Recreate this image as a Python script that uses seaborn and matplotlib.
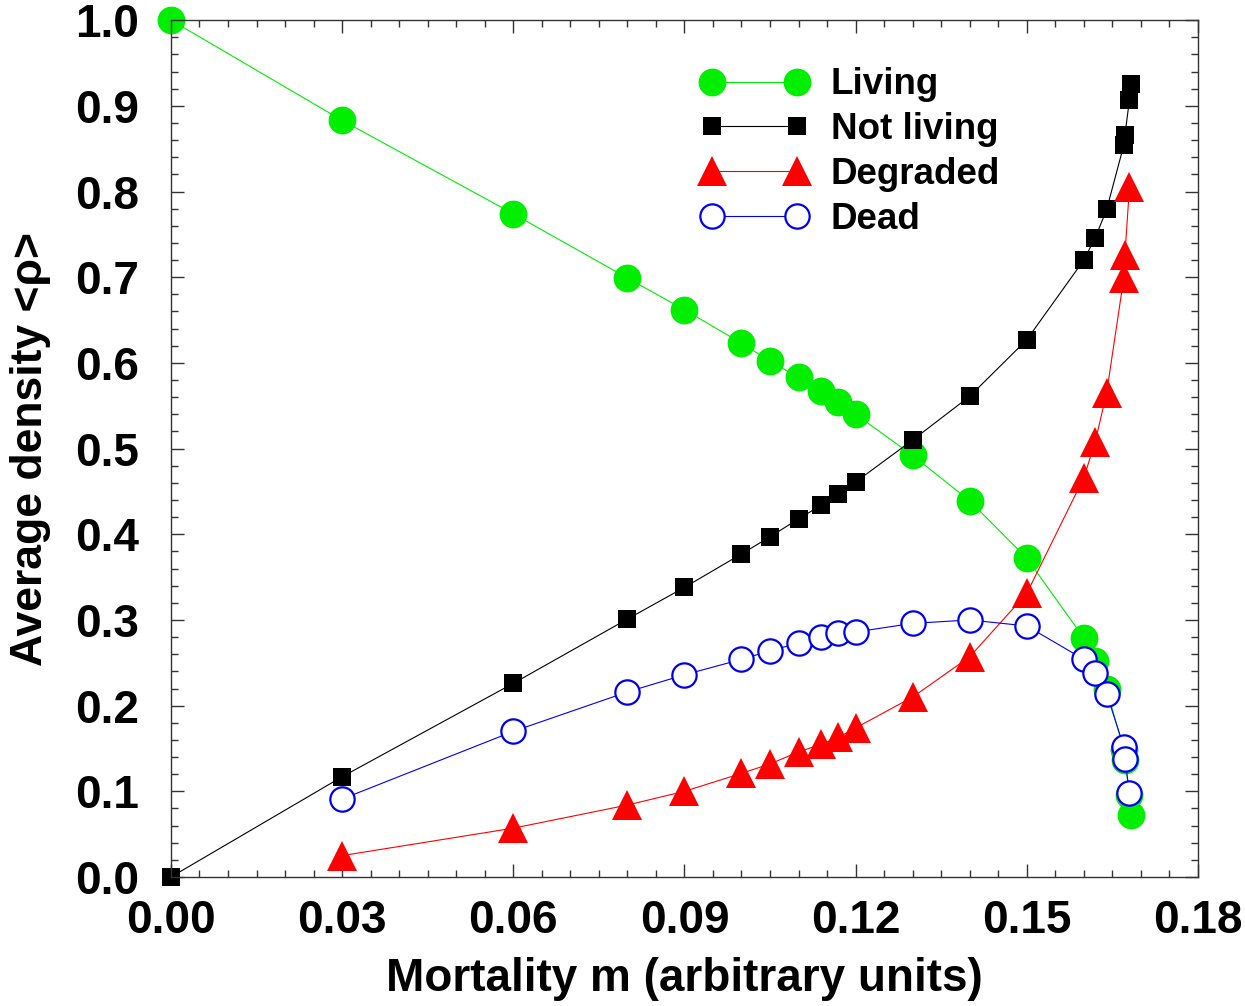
import numpy as np
import pandas as pd
import matplotlib
matplotlib.use("Agg")
import matplotlib.pyplot as plt
from matplotlib.ticker import MultipleLocator
import seaborn as sns

# ---- data ----
m_all = [0.0, 0.03, 0.06, 0.08, 0.09, 0.10, 0.105, 0.11, 0.114, 0.117, 0.12,
         0.13, 0.14, 0.15, 0.16, 0.162, 0.164, 0.167, 0.1672, 0.168, 0.1683]
living = [1.0, 0.883, 0.774, 0.699, 0.662, 0.623, 0.602, 0.583, 0.567, 0.554, 0.540,
          0.492, 0.439, 0.372, 0.279, 0.252, 0.220, 0.148, 0.137, 0.096, 0.072]
not_living = [0.0, 0.117, 0.226, 0.301, 0.338, 0.377, 0.397, 0.418, 0.434, 0.447, 0.461,
              0.510, 0.561, 0.627, 0.720, 0.746, 0.779, 0.854, 0.866, 0.907, 0.925]
m_part = [0.03, 0.06, 0.08, 0.09, 0.10, 0.105, 0.11, 0.114, 0.117, 0.12,
          0.13, 0.14, 0.15, 0.16, 0.162, 0.164, 0.167, 0.1672, 0.168]
degraded = [0.025, 0.057, 0.084, 0.100, 0.121, 0.132, 0.146, 0.155, 0.163, 0.174,
            0.210, 0.257, 0.331, 0.466, 0.508, 0.565, 0.699, 0.726, 0.805]
dead = [0.091, 0.170, 0.216, 0.236, 0.254, 0.264, 0.273, 0.280, 0.285, 0.286,
        0.296, 0.300, 0.293, 0.254, 0.238, 0.214, 0.152, 0.138, 0.098]

x_ticks = [0.00, 0.03, 0.06, 0.09, 0.12, 0.15, 0.18]
y_ticks = [0.0, 0.1, 0.2, 0.3, 0.4, 0.5, 0.6, 0.7, 0.8, 0.9, 1.0]

sns.set_style("ticks")
plt.rcParams['font.family'] = ['Liberation Sans', 'DejaVu Sans']
plt.rcParams['font.weight'] = 'bold'
for k in ['text.color', 'axes.labelcolor', 'xtick.labelcolor', 'ytick.labelcolor']:
    plt.rcParams[k] = 'black'

fig = plt.figure(figsize=(12.45, 10.06), dpi=100)
ax = fig.add_axes([0.1373, 0.1282, 0.8249, 0.8518])

lw = 0.8
common = dict(ax=ax, sort=False, lw=lw, clip_on=False)
sns.lineplot(x=m_all, y=living, color="#00ee00",
             marker="o", markersize=20, markeredgewidth=0, markerfacecolor="#00ee00",
             label="Living", **common)
sns.lineplot(x=m_all, y=not_living, color="black",
             marker="s", markersize=12.5, markeredgewidth=0, markerfacecolor="black",
             label="Not living", **common)
sns.lineplot(x=m_part, y=degraded, color="red",
             marker="^", markersize=22, markeredgewidth=0, markerfacecolor="red",
             label="Degraded", **common)
sns.lineplot(x=m_part, y=dead, color="#0000ee",
             marker="o", markersize=17.5, markeredgewidth=1.6, markerfacecolor="white",
             markeredgecolor="#0000ee", label="Dead", **common)

ax.set_xlim(0, 0.18)
ax.set_ylim(0, 1.0)
ax.set_xticks(x_ticks)
ax.set_xticklabels([f"{v:.2f}" for v in x_ticks])
ax.set_yticks(y_ticks)
ax.set_yticklabels([f"{v:.1f}" for v in y_ticks])
ax.xaxis.set_minor_locator(MultipleLocator(0.005))
ax.yaxis.set_minor_locator(MultipleLocator(0.02))
ax.tick_params(which="both", direction="in", top=True, right=True,
               labelsize=33, width=1.0, color="#333333", labelcolor="black")
ax.tick_params(which="major", length=9.5)
ax.tick_params(which="minor", length=5)
ax.tick_params(axis="x", which="major", pad=16)
ax.tick_params(axis="y", which="major", pad=23)
for lab in ax.get_xticklabels() + ax.get_yticklabels():
    lab.set_fontweight("bold")
for s in ax.spines.values():
    s.set_linewidth(1.0)
    s.set_color("#333333")

ax.set_xlabel("Mortality m (arbitrary units)", fontsize=33, fontweight="bold", labelpad=10)
ax.set_ylabel("Average density <\u03c1>", fontsize=32, fontweight="bold", labelpad=17)

leg = ax.legend(loc="upper left", bbox_to_anchor=(0.502, 0.962), frameon=False,
                numpoints=2, handlelength=2.9, handletextpad=0.62, labelspacing=0.27,
                prop={"size": 26.5, "weight": "bold"}, borderaxespad=0)

fig.savefig("out.png", dpi=100)
